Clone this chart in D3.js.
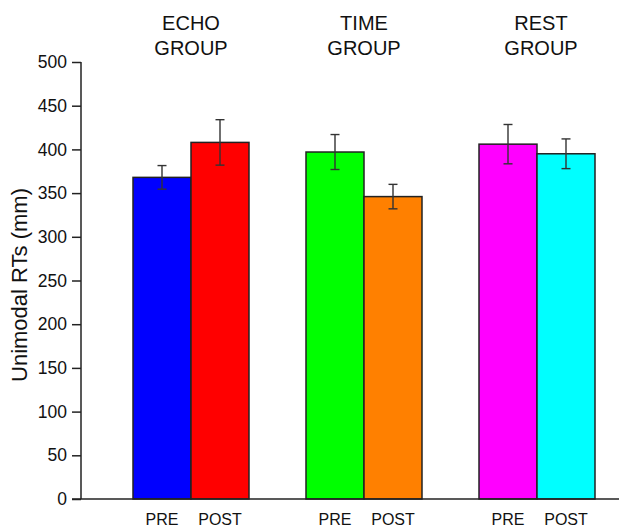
<!DOCTYPE html>
<html>
<head>
<meta charset="utf-8">
<script src="https://cdn.jsdelivr.net/npm/d3@7"></script>
<style>
  body { margin: 0; background: #fff; }
  svg text { font-family: "Liberation Sans", Arial, sans-serif; fill: #111; }
</style>
</head>
<body>
<svg id="chart" width="619" height="528"></svg>
<script>
// Data
const groups = ["ECHO GROUP", "TIME GROUP", "REST GROUP"];
const conditions = ["PRE", "POST"];
const means = [368, 408, 397, 346, 406, 395];
const errors = [13.5, 26, 20, 14, 22.5, 17];
const colors = ["#0000ff", "#ff0000", "#00ff00", "#ff8000", "#ff00ff", "#00ffff"];
const yTicks = [0, 50, 100, 150, 200, 250, 300, 350, 400, 450, 500];
const yLabel = "Unimodal RTs (mm)";

const bars = [];
groups.forEach((g, gi) => conditions.forEach((c, ci) => {
  const i = gi * 2 + ci;
  bars.push({group: g, cond: c, value: means[i], err: errors[i], color: colors[i]});
}));

const svg = d3.select("#chart");
const mLeft = 81, mBottom = 499, mTop = 62;

const y = d3.scaleLinear().domain([0, 500]).range([mBottom, mTop]);
const xGroup = d3.scaleBand().domain(groups).range([104.5, 623.5]).paddingInner(0).paddingOuter(0);
const xCond = d3.scaleBand().domain(conditions).range([0, xGroup.bandwidth()]).paddingInner(0).paddingOuter(0.4914);

// bars
svg.append("g").selectAll("rect").data(bars).join("rect")
  .attr("x", d => xGroup(d.group) + xCond(d.cond))
  .attr("y", d => y(d.value))
  .attr("width", xCond.bandwidth())
  .attr("height", d => y(0) - y(d.value))
  .attr("fill", d => d.color)
  .attr("stroke", "#222")
  .attr("stroke-width", 1.5);

// error bars
const eb = svg.append("g").attr("stroke", "#333").attr("stroke-width", 1.4);
bars.forEach(d => {
  const cx = xGroup(d.group) + xCond(d.cond) + xCond.bandwidth() / 2;
  eb.append("line").attr("x1", cx).attr("x2", cx).attr("y1", y(d.value + d.err)).attr("y2", y(d.value - d.err));
  eb.append("line").attr("x1", cx - 4.5).attr("x2", cx + 4.5).attr("y1", y(d.value + d.err)).attr("y2", y(d.value + d.err));
  eb.append("line").attr("x1", cx - 4.5).attr("x2", cx + 4.5).attr("y1", y(d.value - d.err)).attr("y2", y(d.value - d.err));
});

// y axis
const yAxis = svg.append("g").attr("transform", `translate(${mLeft},0)`)
  .call(d3.axisLeft(y).tickValues(yTicks).tickSize(9).tickPadding(5));
yAxis.select(".domain").attr("stroke", "#222").attr("stroke-width", 1.5).attr("d", `M0,${mTop}V${mBottom}`);
yAxis.selectAll(".tick line").attr("stroke", "#222").attr("stroke-width", 1.5);
yAxis.selectAll(".tick text").style("font-size", "17.5px").attr("fill", "#111");

// x axis baseline
svg.append("line").attr("x1", mLeft - 9).attr("x2", 619).attr("y1", mBottom).attr("y2", mBottom)
  .attr("stroke", "#222").attr("stroke-width", 1.5);

// condition labels
svg.append("g").selectAll("text").data(bars).join("text")
  .attr("x", d => xGroup(d.group) + xCond(d.cond) + xCond.bandwidth() / 2)
  .attr("y", 525)
  .attr("text-anchor", "middle")
  .style("font-size", "16px")
  .text(d => d.cond);

// group titles
groups.forEach((g, gi) => {
  const cx = xGroup(g) + xGroup.bandwidth() / 2 + (gi === 2 ? 4 : 0);
  const parts = g.split(" ");
  const t = svg.append("text").attr("text-anchor", "middle").style("font-size", "20px");
  t.append("tspan").attr("x", cx).attr("y", 30).text(parts[0]);
  t.append("tspan").attr("x", cx).attr("y", 55).text(parts[1]);
});

// y label
svg.append("text")
  .attr("transform", `translate(27,285) rotate(-90)`)
  .attr("text-anchor", "middle")
  .style("font-size", "22px")
  .text(yLabel);
</script>
</body>
</html>
